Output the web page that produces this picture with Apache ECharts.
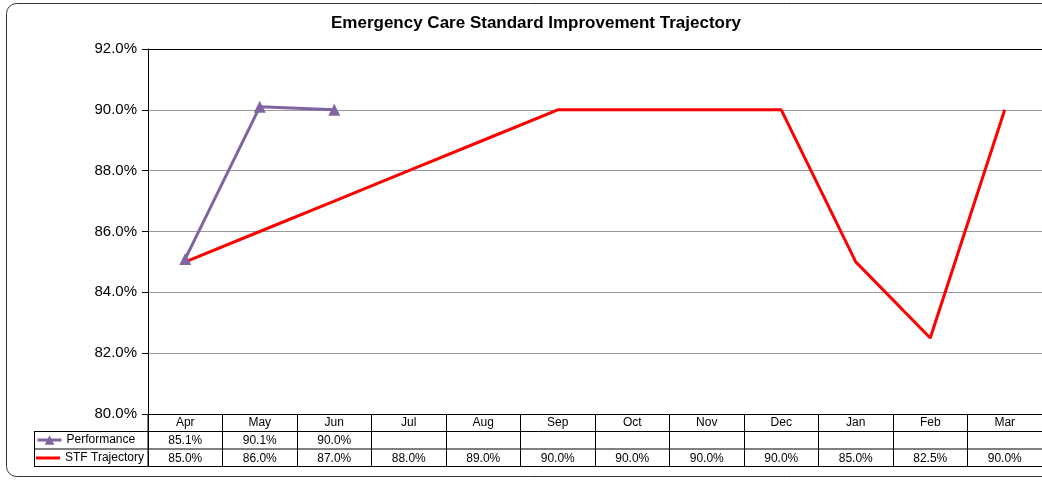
<!DOCTYPE html>
<html>
<head>
<meta charset="utf-8">
<script src="https://cdn.jsdelivr.net/npm/echarts@6/dist/echarts.min.js"></script>
<style>
  html, body { margin: 0; padding: 0; background: #fff; }
  #chart { width: 1042px; height: 481px; }
</style>
</head>
<body>
<div id="chart"></div>
<script>
// data
var months = ['Apr', 'May', 'Jun', 'Jul', 'Aug', 'Sep', 'Oct', 'Nov', 'Dec', 'Jan', 'Feb', 'Mar'];
var performance = [85.1, 90.1, 90.0, null, null, null, null, null, null, null, null, null];
var stfTrajectory = [85.0, 86.0, 87.0, 88.0, 89.0, 90.0, 90.0, 90.0, 90.0, 85.0, 82.5, 90.0];
var yMin = 80, yMax = 92, yStep = 2;

var font = 'Liberation Sans, Arial, sans-serif';
var purple = '#8064A2';
var red = '#FF0000';

function pct(v) {
  return v == null ? '' : v.toFixed(1) + '%';
}

var chart = echarts.init(document.getElementById('chart'));

chart.setOption({
  animation: false,
  backgroundColor: '#fff',
  title: {
    text: 'Emergency Care Standard Improvement Trajectory',
    left: 531,
    top: 10,
    textAlign: 'center',
    textStyle: { fontFamily: font, fontSize: 17, fontWeight: 'bold', color: '#000' }
  },
  legend: [
    {
      data: ['Performance'], left: 36, top: 434, padding: 0,
      itemWidth: 24, itemHeight: 12,
      lineStyle: { width: 3 },
      textStyle: { fontFamily: font, fontSize: 12, color: '#000' }
    },
    {
      data: [{ name: 'STF Trajectory', icon: 'rect' }], left: 36, top: 452, padding: 0,
      itemWidth: 24, itemHeight: 3,
      textStyle: { fontFamily: font, fontSize: 12, color: '#000' }
    }
  ],
  grid: { left: 148, top: 49, width: 895, bottom: 67 },
  xAxis: {
    type: 'category',
    data: months,
    boundaryGap: true,
    axisLine: { lineStyle: { color: '#000', width: 1 } },
    axisTick: { show: true, length: 52.5, lineStyle: { color: '#000' } },
    axisLabel: { margin: 3, fontFamily: font, fontSize: 12, color: '#000' }
  },
  yAxis: {
    type: 'value',
    min: yMin,
    max: yMax,
    interval: yStep,
    axisLine: { show: true, lineStyle: { color: '#000' } },
    axisTick: { show: true, length: 6, lineStyle: { color: '#000' } },
    axisLabel: {
      margin: 11, fontFamily: font, fontSize: 15, color: '#000',
      formatter: function (v) { return v.toFixed(1) + '%'; }
    },
    splitLine: {
      lineStyle: { color: ['#000', '#999', '#999', '#999', '#999', '#999', '#000'], width: 1 }
    }
  },
  series: [
    {
      name: 'Performance',
      type: 'line',
      data: performance,
      symbol: 'triangle',
      symbolSize: 12,
      itemStyle: { color: purple },
      lineStyle: { color: purple, width: 3 }
    },
    {
      name: 'STF Trajectory',
      type: 'line',
      data: stfTrajectory,
      symbol: 'none',
      itemStyle: { color: red },
      lineStyle: { color: red, width: 3 }
    }
  ]
});

// data table under the plot
var tableTop = 414, rowH = 17.5, tableLeft = 34, plotLeft = 148, right = 1100;
var rowY = [tableTop + rowH, tableTop + 2 * rowH, tableTop + 3 * rowH];
var els = [];

els.push({
  type: 'rect', silent: true,
  shape: { x: 6.5, y: 3.5, width: 1100, height: 473, r: 10 },
  style: { fill: null, stroke: '#333', lineWidth: 1 }
});

rowY.forEach(function (y) {
  els.push({
    type: 'line', silent: true,
    shape: { x1: tableLeft, y1: y, x2: right, y2: y },
    style: { stroke: '#000', lineWidth: 1 }
  });
});
els.push({
  type: 'line', silent: true,
  shape: { x1: tableLeft + 0.5, y1: rowY[0], x2: tableLeft + 0.5, y2: rowY[2] },
  style: { stroke: '#000', lineWidth: 1 }
});
els.push({
  type: 'line', silent: true,
  shape: { x1: plotLeft, y1: tableTop, x2: plotLeft, y2: rowY[2] },
  style: { stroke: '#000', lineWidth: 1 }
});

[performance, stfTrajectory].forEach(function (row, r) {
  row.forEach(function (v, i) {
    if (v == null) return;
    var x = chart.convertToPixel({ xAxisIndex: 0 }, i);
    els.push({
      type: 'text', silent: true,
      x: x, y: rowY[r] + rowH / 2 + 0.5,
      style: {
        text: pct(v), fontFamily: font, fontSize: 12, fill: '#000',
        align: 'center', verticalAlign: 'middle'
      }
    });
  });
});

chart.setOption({ graphic: els });
</script>
</body>
</html>
